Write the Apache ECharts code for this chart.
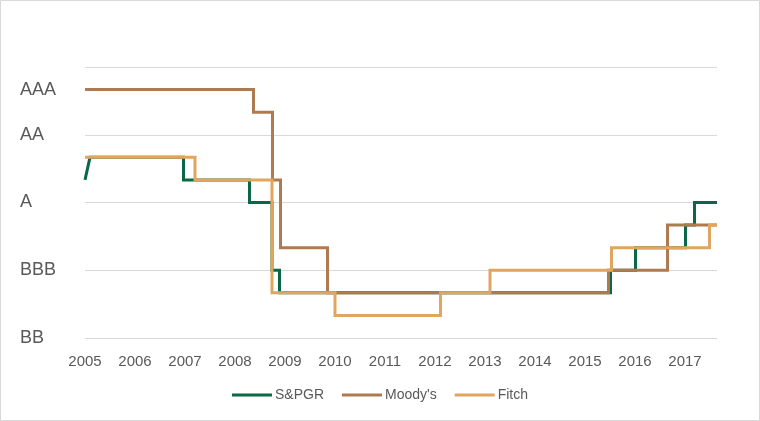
<!DOCTYPE html>
<html>
<head>
<meta charset="utf-8">
<script src="https://cdn.jsdelivr.net/npm/echarts@6/dist/echarts.min.js"></script>
<style>
html,body{margin:0;padding:0;background:#fff;}
#chart{width:760px;height:421px;}
</style>
</head>
<body>
<div id="chart"></div>
<script>
// Rating scale: notches above BB (BB=0, BB+=1, BBB-=2, BBB=3, BBB+=4, A-=5, A=6, A+=7, AA-=8, AA=9, AA+=10, AAA=11)
var yTickValues = [0, 3, 6, 9, 11];
var yTickLabels = ['BB', 'BBB', 'A', 'AA', 'AAA'];
var xTickYears = [2005, 2006, 2007, 2008, 2009, 2010, 2011, 2012, 2013, 2014, 2015, 2016, 2017];
var seriesNames = ['S&PGR', "Moody's", 'Fitch'];

// Vertices of each rating history (year, notch)
var spX = [2005, 2005.1, 2006.97, 2006.97, 2008.29, 2008.29, 2008.74, 2008.74, 2008.89, 2008.89, 2015.51, 2015.51, 2016.01, 2016.01, 2017.01, 2017.01, 2017.19, 2017.19, 2017.64];
var spY = [7, 8, 8, 7, 7, 6, 6, 3, 3, 2, 2, 3, 3, 4, 4, 5, 5, 6, 6];

var moodysX = [2005, 2008.37, 2008.37, 2008.75, 2008.75, 2008.91, 2008.91, 2009.85, 2009.85, 2015.47, 2015.47, 2016.65, 2016.65, 2017.64];
var moodysY = [11, 11, 10, 10, 7, 7, 4, 4, 2, 2, 3, 3, 5, 5];

var fitchX = [2005, 2007.2, 2007.2, 2008.74, 2008.74, 2010.0, 2010.0, 2012.11, 2012.11, 2013.1, 2013.1, 2015.53, 2015.53, 2017.49, 2017.49, 2017.64];
var fitchY = [8, 8, 7, 7, 2, 2, 1, 1, 2, 2, 3, 3, 4, 4, 5, 5];

var xMin = 2005, xMax = 2017.64;

function pairs(xs, ys) {
  return xs.map(function (x, i) { return [x, ys[i]]; });
}

var colors = ['#0b6846', '#b07a51', '#e0a55f'];
var textColor = '#595959';
var font = 'Liberation Sans, Arial, sans-serif';

var chart = echarts.init(document.getElementById('chart'), null, {renderer: 'canvas'});
chart.setOption({
  animation: false,
  backgroundColor: '#fff',
  color: colors,
  graphic: [{
    type: 'rect', silent: true,
    shape: {x: 0.5, y: 0.5, width: 759, height: 420},
    style: {fill: 'none', stroke: '#d9d9d9', lineWidth: 1}
  }],
  grid: {left: 85, right: 43, top: 67, bottom: 83, containLabel: false},
  legend: {
    data: seriesNames,
    left: 'center',
    top: 383,
    icon: 'rect',
    itemWidth: 40,
    itemHeight: 3,
    itemGap: 18,
    textStyle: {color: textColor, fontSize: 14, fontFamily: font, padding: [0, 0, 0, -2]}
  },
  xAxis: {
    type: 'value',
    min: xMin,
    max: xMax,
    interval: 1,
    axisLine: {show: false},
    axisTick: {show: false},
    splitLine: {show: false},
    axisLabel: {
      color: textColor, fontSize: 15, fontFamily: font, margin: 16,
      showMaxLabel: false,
      formatter: function (v) { return xTickYears.indexOf(v) >= 0 ? String(v) : ''; }
    }
  },
  yAxis: [{
    type: 'value',
    min: 0, max: 12, interval: 3,
    axisLine: {show: false},
    axisTick: {show: false},
    axisLabel: {show: false},
    splitLine: {lineStyle: {color: '#d9d9d9', width: 1}}
  }, {
    type: 'value',
    position: 'left',
    min: 0, max: 12, interval: 1,
    axisLine: {show: false},
    axisTick: {show: false},
    splitLine: {show: false},
    axisLabel: {
      color: textColor, fontSize: 18, fontFamily: font,
      align: 'left', margin: 65,
      formatter: function (v) {
        var i = yTickValues.indexOf(v);
        return i >= 0 ? yTickLabels[i] : '';
      }
    }
  }],
  series: [{
    name: seriesNames[0], type: 'line', yAxisIndex: 0, symbol: 'none',
    data: pairs(spX, spY),
    lineStyle: {width: 3, color: colors[0], join: 'miter'}
  }, {
    name: seriesNames[1], type: 'line', yAxisIndex: 0, symbol: 'none',
    data: pairs(moodysX, moodysY),
    lineStyle: {width: 3, color: colors[1], join: 'miter'}
  }, {
    name: seriesNames[2], type: 'line', yAxisIndex: 0, symbol: 'none',
    data: pairs(fitchX, fitchY),
    lineStyle: {width: 3, color: colors[2], join: 'miter'}
  }]
});
</script>
</body>
</html>
